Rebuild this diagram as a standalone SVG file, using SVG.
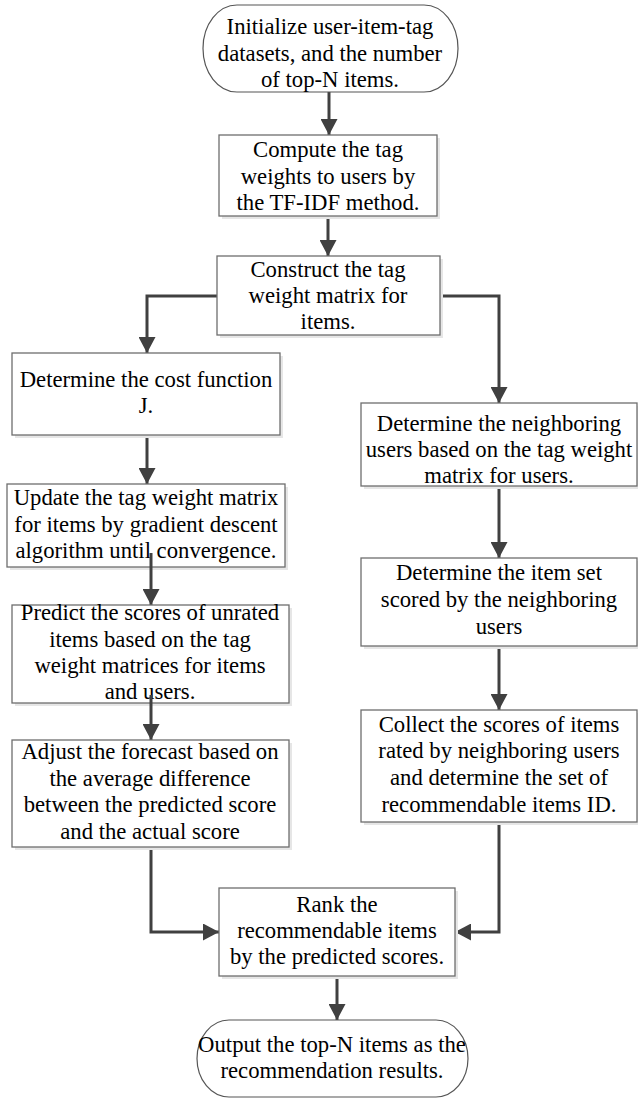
<svg xmlns="http://www.w3.org/2000/svg" width="638" height="1099" viewBox="0 0 638 1099">
<defs>
<style>
.box{fill:#fff;stroke:#6e6e6e;stroke-width:1.3}
.sh{fill:#e6e6e6}
.term{fill:#fff;stroke:#555;stroke-width:1.2}
.t{font-family:"Liberation Serif","Times New Roman",serif;font-size:22.7px;fill:#000;text-anchor:middle}
.c{fill:none;stroke:#404040;stroke-width:3}
</style>
<marker id="ah" markerUnits="userSpaceOnUse" markerWidth="16" markerHeight="17" refX="16" refY="8.5" orient="auto">
<path d="M0,0 L16,8.5 L0,17 Z" fill="#404040"/>
</marker>
</defs>
<rect width="638" height="1099" fill="#fff"/>
<g id="connectors">
<path class="c" marker-end="url(#ah)" d="M329,92 V135"/>
<path class="c" marker-end="url(#ah)" d="M328,216 V256"/>
<path class="c" marker-end="url(#ah)" d="M217,296 H147 V353"/>
<path class="c" marker-end="url(#ah)" d="M147,435 V484"/>
<path class="c" marker-end="url(#ah)" d="M441,296 H499 V403"/>
<path class="c" marker-end="url(#ah)" d="M499,486 V558"/>
<path class="c" marker-end="url(#ah)" d="M499,646 V710"/>
<path class="c" marker-end="url(#ah)" d="M151,847 V932 H219"/>
<path class="c" marker-end="url(#ah)" d="M499,822 V932 H455"/>
<path class="c" marker-end="url(#ah)" d="M337,976 V1020"/>
</g>
<g id="start">
<path class="term" d="M237,5 H424 A34,43.5 0 0 1 424,92 H237 A34,43.5 0 0 1 237,5 Z"/>
<text class="t" x="330" y="34">Initialize user-item-tag</text>
<text class="t" x="330" y="61">datasets, and the number</text>
<text class="t" x="330" y="87">of top-N items.</text>
</g>
<g id="compute">
<rect class="sh" x="222" y="138" width="218" height="81"/>
<rect class="box" x="219" y="135" width="218" height="81"/>
<text class="t" x="328" y="157">Compute the tag</text>
<text class="t" x="328" y="184">weights to users by</text>
<text class="t" x="328" y="210">the TF-IDF method.</text>
</g>
<g id="construct">
<rect class="sh" x="220" y="259" width="223" height="79"/>
<rect class="box" x="217" y="256" width="223" height="79"/>
<text class="t" x="328" y="277">Construct the tag</text>
<text class="t" x="328" y="303">weight matrix for</text>
<text class="t" x="328" y="329">items.</text>
</g>
<g id="costfn">
<rect class="sh" x="15" y="356" width="268" height="82"/>
<rect class="box" x="12" y="353" width="268" height="82"/>
<text class="t" x="146" y="387">Determine the cost function</text>
<text class="t" x="146" y="413">J.</text>
</g>
<g id="update">
<rect class="sh" x="10" y="487" width="278" height="83"/>
<rect class="box" x="7" y="484" width="278" height="83"/>
<text class="t" x="146" y="505">Update the tag weight matrix</text>
<text class="t" x="146" y="532">for items by gradient descent</text>
<text class="t" x="146" y="558">algorithm until convergence.</text>
</g>
<path class="c" marker-end="url(#ah)" d="M151,553 V605"/>
<g id="predict">
<rect class="sh" x="15" y="608" width="277" height="98"/>
<rect class="box" x="12" y="605" width="277" height="98"/>
<text class="t" x="150" y="620">Predict the scores of unrated</text>
<text class="t" x="150" y="647">items based on the tag</text>
<text class="t" x="150" y="673">weight matrices for items</text>
<text class="t" x="150" y="699">and users.</text>
</g>
<path class="c" marker-end="url(#ah)" d="M151,695 V740"/>
<g id="adjust">
<rect class="sh" x="15" y="743" width="277" height="107"/>
<rect class="box" x="12" y="740" width="277" height="107"/>
<text class="t" x="150" y="759">Adjust the forecast based on</text>
<text class="t" x="150" y="786">the average difference</text>
<text class="t" x="150" y="812">between the predicted score</text>
<text class="t" x="150" y="839">and the actual score</text>
</g>
<g id="neighbors">
<rect class="sh" x="364" y="406" width="276" height="83"/>
<rect class="box" x="361" y="403" width="276" height="83"/>
<text class="t" x="499" y="431">Determine the neighboring</text>
<text class="t" x="499" y="457">users based on the tag weight</text>
<text class="t" x="499" y="483">matrix for users.</text>
</g>
<g id="itemset">
<rect class="sh" x="364" y="561" width="276" height="88"/>
<rect class="box" x="361" y="558" width="276" height="88"/>
<text class="t" x="499" y="580">Determine the item set</text>
<text class="t" x="499" y="607">scored by the neighboring</text>
<text class="t" x="499" y="634">users</text>
</g>
<g id="collect">
<rect class="sh" x="364" y="713" width="276" height="112"/>
<rect class="box" x="361" y="710" width="276" height="112"/>
<text class="t" x="499" y="732">Collect the scores of items</text>
<text class="t" x="499" y="758">rated by neighboring users</text>
<text class="t" x="499" y="785">and determine the set of</text>
<text class="t" x="499" y="812">recommendable items ID.</text>
</g>
<g id="rank">
<rect class="sh" x="222" y="891" width="236" height="88"/>
<rect class="box" x="219" y="888" width="236" height="88"/>
<text class="t" x="337" y="912">Rank the</text>
<text class="t" x="337" y="938">recommendable items</text>
<text class="t" x="337" y="964">by the predicted scores.</text>
</g>
<g id="end">
<path class="term" d="M229,1020 H436 A32,38.5 0 0 1 436,1097 H229 A32,38.5 0 0 1 229,1020 Z"/>
<text class="t" x="332" y="1052">Output the top-N items as the</text>
<text class="t" x="332" y="1078">recommendation results.</text>
</g>
</svg>
